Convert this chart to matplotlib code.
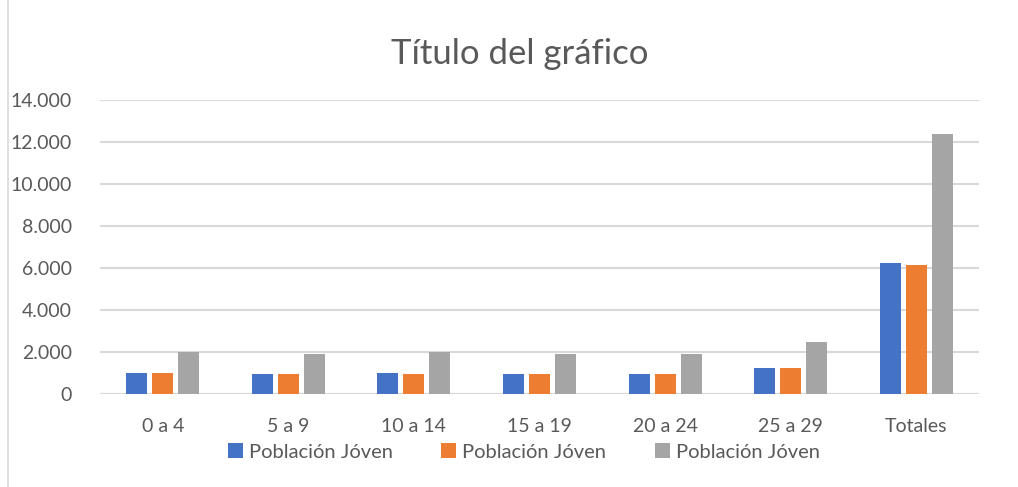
import numpy as np
import matplotlib.pyplot as plt
from matplotlib.patches import Rectangle
from matplotlib.ticker import FuncFormatter

# datos
categorias = ["0 a 4", "5 a 9", "10 a 14", "15 a 19", "20 a 24", "25 a 29", "Totales"]
serie_1 = [1000, 950, 1030, 985, 985, 1270, 6250]
serie_2 = [1000, 950, 985, 985, 985, 1270, 6155]
serie_3 = [2000, 1940, 2010, 1940, 1940, 2476, 12400]
nombres = ["Población Jóven", "Población Jóven", "Población Jóven"]
colores = ["#4472C4", "#ED7D31", "#A5A5A5"]

plt.rcParams["font.family"] = ["Lato", "DejaVu Sans"]
texto = "#595959"

fig = plt.figure(figsize=(10.18, 4.87), dpi=100)
ax = fig.add_axes([0.0982, 0.19, 0.8635, 0.6047])

x = np.arange(len(categorias))
ancho = 0.167
paso = 0.207
for i, (vals, nombre, color) in enumerate(zip([serie_1, serie_2, serie_3], nombres, colores)):
    ax.bar(x + (i - 1) * paso, vals, width=ancho, color=color, label=nombre, zorder=3)

ax.set_xlim(-0.5, len(categorias) - 0.5)
ax.set_ylim(0, 14000)
ax.set_yticks(range(0, 14001, 2000))
ax.yaxis.set_major_formatter(FuncFormatter(lambda v, p: f"{int(v):,}".replace(",", ".")))
ax.set_xticks(x)
ax.set_xticklabels(categorias)
ax.grid(axis="y", color="#D9D9D9", linewidth=1.5, zorder=0)
for s in ax.spines.values():
    s.set_visible(False)
ax.axhline(0, color="#D9D9D9", linewidth=1.5, zorder=2)
ax.tick_params(axis="both", length=0, labelsize=14, colors=texto)
ax.tick_params(axis="y", pad=20)
ax.tick_params(axis="x", pad=17)

fig.text(0.511, 0.89, "Título del gráfico", ha="center", va="center",
         fontsize=25, color=texto)

ax.legend(loc="center", bbox_to_anchor=(0.482, -0.196), ncol=3, frameon=False,
          fontsize=14.5, labelcolor=texto, handlelength=0.75, handleheight=0.75,
          handletextpad=0.3, columnspacing=2.4)

fig.patches.append(Rectangle((0.008, -0.01), 1.5, 1.5, transform=fig.transFigure,
                             fill=False, edgecolor="#D9D9D9", linewidth=1.2))

fig.savefig("out.png", dpi=100)
